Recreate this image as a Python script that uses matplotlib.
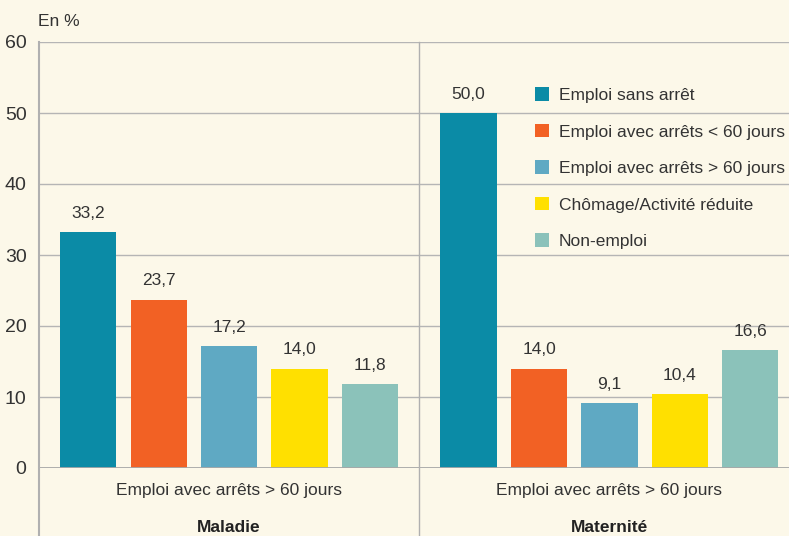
import numpy as np
import matplotlib.pyplot as plt
from matplotlib import font_manager

groups = ["Maladie", "Maternité"]
subtitle = "Emploi avec arrêts > 60 jours"
series = ["Emploi sans arrêt", "Emploi avec arrêts < 60 jours",
          "Emploi avec arrêts > 60 jours", "Chômage/Activité réduite", "Non-emploi"]
maladie = [33.2, 23.7, 17.2, 14.0, 11.8]
maternite = [50.0, 14.0, 9.1, 10.4, 16.6]
colors = ["#0b8ba6", "#f26124", "#5fa9c3", "#ffe000", "#8bc2ba"]

bg = "#fcf8e9"
txt = "#333333"
names = {f.name for f in font_manager.fontManager.ttflist}
fam = ["Liberation Sans Narrow"] if "Liberation Sans Narrow" in names else ["Liberation Sans"]
plt.rcParams["font.family"] = fam + ["DejaVu Sans"]

fig = plt.figure(figsize=(7.89, 5.36), dpi=100, facecolor=bg)
ax = fig.add_axes([39/789, 1 - 468/536, 750/789, 426/536], facecolor=bg)

group_gap = 5.4
width = 0.8
for g, vals in enumerate([maladie, maternite]):
    x = np.arange(len(vals)) + g * group_gap
    for i, (xi, v) in enumerate(zip(x, vals)):
        ax.bar(xi, v, width=width, color=colors[i], zorder=3,
               label=series[i] if g == 0 else None)
        ax.text(xi, v + 1.6, f"{v:.1f}".replace(".", ","), ha="center", va="bottom",
                fontsize=12.5, color=txt)
    cx = x.mean()
    ax.text(cx, -3.2, subtitle, ha="center", va="center", fontsize=12.5, color=txt)
    ax.text(cx, -8.4, groups[g], ha="center", va="center", fontsize=12.5,
            fontweight="bold", color="#222222")

ax.set_xlim(-0.70, 9.95)
ax.set_ylim(0, 60)
ax.set_yticks(range(0, 61, 10))
ax.grid(axis="y", color="#b5b5b5", lw=1, zorder=0)
ax.axhline(0, color="#a8a8a8", lw=2, zorder=4)
ax.tick_params(axis="y", length=0, labelsize=14, labelcolor=txt, pad=9)
ax.tick_params(axis="x", bottom=False, labelbottom=False)
for s in ["top", "right", "bottom", "left"]:
    ax.spines[s].set_visible(False)
ax.axvline(-0.70, ymin=-0.17, ymax=1, color="#b0b0b0", lw=1.5, clip_on=False, zorder=4)
ax.axvline((4 + group_gap) / 2, ymin=-0.17, ymax=1, color="#b0b0b0", lw=1,
           clip_on=False, zorder=4)

fig.text(38/789, 1 - 22/536, "En %", ha="left", va="center", fontsize=12.5, color=txt)

leg = ax.legend(loc="upper left", bbox_to_anchor=(0.64, 0.93), frameon=False,
                fontsize=12.5, handlelength=0.8, handleheight=0.8, handletextpad=0.6,
                labelspacing=1.2, labelcolor=txt)

fig.savefig("out.png", dpi=100, facecolor=bg)
